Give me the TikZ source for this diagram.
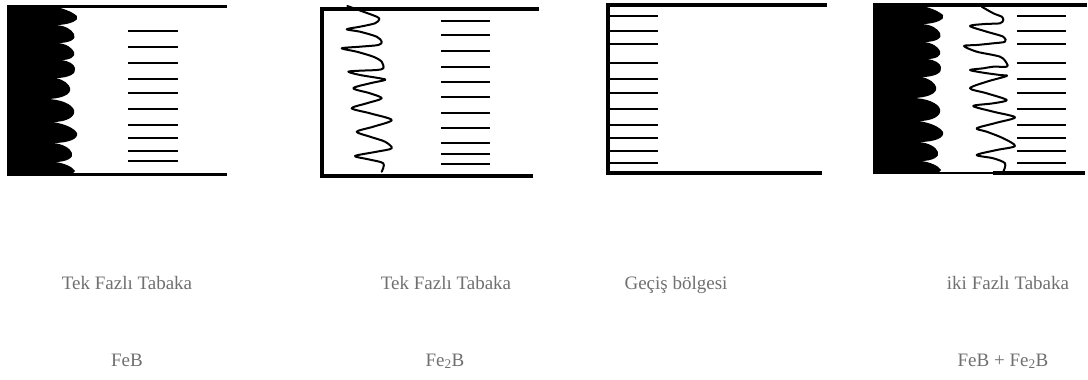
\documentclass[tikz,border=0pt]{standalone}
\usepackage{fontspec}
\setmainfont{Liberation Serif}
\begin{document}
\begin{tikzpicture}[x=1pt,y=-1pt,
  frame/.style={line width=3.5pt},
  thinframe/.style={line width=3pt},
  hatch/.style={line width=2pt},
  wave/.style={line width=2pt, line join=round, line cap=round},
  caption/.style={text=black!56, font=\fontsize{19}{22}\selectfont, anchor=base, inner sep=0pt}]
\useasboundingbox[fill=white] (0,0) rectangle (1088,380);

% finger-like dark layer growing from the surface
\newcommand{\fingerlayer}{%
  \fill[black] (7,6) -- (52,6)
    .. controls (62,8) and (71,11) .. (77,16) .. controls (80,20) and (70,25) .. (56,25)
    .. controls (66,26) and (71,29) .. (74,34) .. controls (77,39) and (70,43) .. (58,43)
    .. controls (67,44) and (72,48) .. (74,52) .. controls (76,57) and (70,60) .. (61,60)
    .. controls (69,61) and (74,64) .. (75,68) .. controls (77,74) and (68,78) .. (56,78)
    .. controls (64,80) and (69,84) .. (70,88) .. controls (72,95) and (60,99) .. (46,99)
    .. controls (60,99) and (72,104) .. (74,110) .. controls (76,117) and (66,122) .. (53,122)
    .. controls (65,124) and (74,128) .. (77,133) .. controls (79,139) and (68,143) .. (53,143)
    .. controls (63,144) and (70,148) .. (72,153) .. controls (74,158) and (66,162) .. (55,162)
    .. controls (64,163) and (73,167) .. (75,171) -- (72,174) -- (7,174) -- cycle;}

% ---- panel 1: FeB ----
\fingerlayer
\draw[thinframe] (7,6) -- (227,6);
\draw[thinframe] (7,174) -- (227,174);
\foreach \y in {31,47,63,79,93,109,125,138,151,161}
  \draw[hatch] (128,\y) -- (178,\y);

% ---- panel 2: Fe2B ----
\draw[frame] (539,9) -- (322,9) -- (322,176) -- (533,176);
\foreach \y in {21,35,51,67,82,97,113,128,143,154,164}
  \draw[hatch] (441,\y) -- (490,\y);
\draw[wave] plot[smooth, tension=0.5] coordinates {(347.3,6) (363.3,11.7) (376.7,16.7) (379.3,19.3) (375,23.3) (360,26.7) (346.7,29.3) (360,31.7) (376.7,36.7) (381.7,41.7) (378.3,45) (360,46.7) (341.7,48.3) (356.7,51.7) (373.3,56.7) (381.7,61.7) (383.3,68.3) (376.7,70) (360,70.7) (348.3,71.7) (360,75) (380,78.3) (385,80) (370,83.3) (353.3,88.3) (370,93.3) (381.7,98.3) (366.7,103.3) (351.7,108.3) (370,113.3) (391.7,120) (373.3,126.7) (356.7,131.7) (370,136.7) (385,141.7) (391.7,148.3) (376.7,151.7) (355,156) (368.3,159.3) (383.3,163.3) (381.7,171.7)};

% ---- panel 3: transition zone ----
\draw[frame] (827,5) -- (608,5) -- (608,173) -- (822,173);
\foreach \y in {16,31,44,63,79,93,109,125,138,151,163}
  \draw[hatch] (609,\y) -- (658,\y);

% ---- panel 4: FeB + Fe2B ----
\begin{scope}[shift={(866,-1)}]
  \fingerlayer
\end{scope}
\draw[frame] (873,5) -- (1087,5);
\draw[line width=1.2pt] (873,173) -- (993,173);
\draw[frame] (993,173) -- (1085,173);
\foreach \y in {16,31,44,63,79,93,109,125,138,151,163}
  \draw[hatch] (1017,\y) -- (1066,\y);
\draw[wave] plot[smooth, tension=0.5] coordinates {(981.7,6.7) (993.3,13.3) (1001.7,16.7) (1003.3,20) (1000,23.3) (985,24) (970,26) (986.7,31.7) (1003.3,36.7) (1005,41.7) (993.3,43.3) (976.7,45) (964,46) (976.7,51.7) (1000,56.7) (1006.7,63.3) (1006.7,66.7) (993.3,66.7) (983.3,68.3) (970,70) (983.3,72.7) (1000,75) (1006.7,76) (986.7,81.7) (970,88.3) (986.7,93.3) (1006.7,100) (993.3,103.3) (973.3,106) (993.3,111.7) (1015,117.3) (996.7,122.7) (976.7,128.3) (986.7,131.7) (1003.3,138.3) (1015,146) (996.7,150) (976.7,155) (993.3,158.3) (1005,163.3) (1003.3,171.7)};

% ---- captions ----
\node[caption] (t1) at (127,289) {Tek Fazlı Tabaka};
\node[caption] (t2) at (446,289) {Tek Fazlı Tabaka};
\node[caption] (t3) at (676,289) {Geçiş bölgesi};
\node[caption] (t4) at (1008,289) {iki Fazlı Tabaka};
\node[caption] (p1) at (127,366) {FeB};
\node[caption] (p2) at (445,366) {Fe\textsubscript{2}B};
\node[caption] (p4) at (1003,366) {FeB + Fe\textsubscript{2}B};
\end{tikzpicture}
\end{document}
